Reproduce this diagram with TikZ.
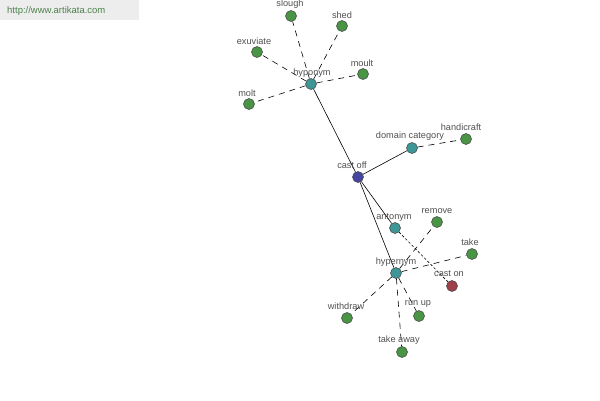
\documentclass[tikz,border=0pt]{standalone}
\usepackage{fontspec}
\setmainfont{Liberation Sans}
\definecolor{cteal}{HTML}{3E9696}
\definecolor{cgreen}{HTML}{4A9446}
\definecolor{cblue}{HTML}{4646A0}
\definecolor{cred}{HTML}{A0404A}
\definecolor{ctext}{HTML}{505050}
\begin{document}
\begin{tikzpicture}[x=1pt,y=-1pt,
  dot/.style={circle,draw=black!75,line width=0.5pt,minimum size=11pt,inner sep=0pt},
  teal/.style={dot,fill=cteal},
  leaf/.style={dot,fill=cgreen},
  root/.style={dot,fill=cblue},
  anto/.style={dot,fill=cred},
  lbl/.style={font=\fontsize{9.2}{10}\selectfont,text=ctext,inner sep=0pt},
  solidedge/.style={line width=0.6pt},
  dashedge/.style={line width=0.6pt,dash pattern=on 6pt off 5pt},
  fineedge/.style={line width=0.6pt,dash pattern=on 2.5pt off 2pt}]
\useasboundingbox (0,0) rectangle (600,400);
\fill[black!7] (0,0) rectangle (139,20);
\node[anchor=west,font=\fontsize{9.5}{10}\selectfont,text=green!30!black!70,inner sep=0pt] (url) at (7,11) {http://www.artikata.com};
% node coordinates
\node[teal] (hypo) at (311,84) {};
\node[leaf] (slough) at (291,16) {};
\node[leaf] (shed) at (342,26) {};
\node[leaf] (exuv) at (257,52) {};
\node[leaf] (moult) at (363,74) {};
\node[leaf] (molt) at (249,104) {};
\node[root] (castoff) at (358,177) {};
\node[teal] (domain) at (412,148) {};
\node[leaf] (handi) at (466,139) {};
\node[teal] (anton) at (395,228) {};
\node[anto] (caston) at (452,286) {};
\node[teal] (hyper) at (396,273) {};
\node[leaf] (remove) at (437,222) {};
\node[leaf] (take) at (472,254) {};
\node[leaf] (withdraw) at (347,318) {};
\node[leaf] (runup) at (419,316) {};
\node[leaf] (takeaway) at (402,352) {};
% edges
\draw[solidedge] (castoff) -- (hypo);
\draw[solidedge] (castoff) -- (domain);
\draw[solidedge] (castoff) -- (anton);
\draw[solidedge] (castoff) -- (hyper);
\draw[dashedge] (hypo) -- (slough);
\draw[dashedge] (hypo) -- (shed);
\draw[dashedge] (hypo) -- (exuv);
\draw[dashedge] (hypo) -- (moult);
\draw[dashedge] (hypo) -- (molt);
\draw[dashedge] (domain) -- (handi);
\draw[fineedge] (anton) -- (caston);
\draw[dashedge] (hyper) -- (remove);
\draw[dashedge] (hyper) -- (take);
\draw[dashedge] (hyper) -- (withdraw);
\draw[dashedge] (hyper) -- (runup);
\draw[dashedge] (hyper) -- (takeaway);
% labels
\node[lbl] (lHypo) at (312,73) {hyponym};
\node[lbl] (lSlough) at (290,4) {slough};
\node[lbl] (lShed) at (342,15) {shed};
\node[lbl] (lExuv) at (254,41) {exuviate};
\node[lbl] (lMoult) at (362,63) {moult};
\node[lbl] (lMolt) at (247,93) {molt};
\node[lbl] (lCastoff) at (352,165) {cast off};
\node[lbl] (lDomain) at (410,136) {domain category};
\node[lbl] (lHandi) at (461,127) {handicraft};
\node[lbl] (lAnton) at (394,217) {antonym};
\node[lbl] (lCaston) at (449,274) {cast on};
\node[lbl] (lHyper) at (396,262) {hypernym};
\node[lbl] (lRemove) at (437,211) {remove};
\node[lbl] (lTake) at (470,242) {take};
\node[lbl] (lWithdraw) at (346,306) {withdraw};
\node[lbl] (lRunup) at (418,304) {run up};
\node[lbl] (lTakeaway) at (399,340) {take away};
\end{tikzpicture}
\end{document}
